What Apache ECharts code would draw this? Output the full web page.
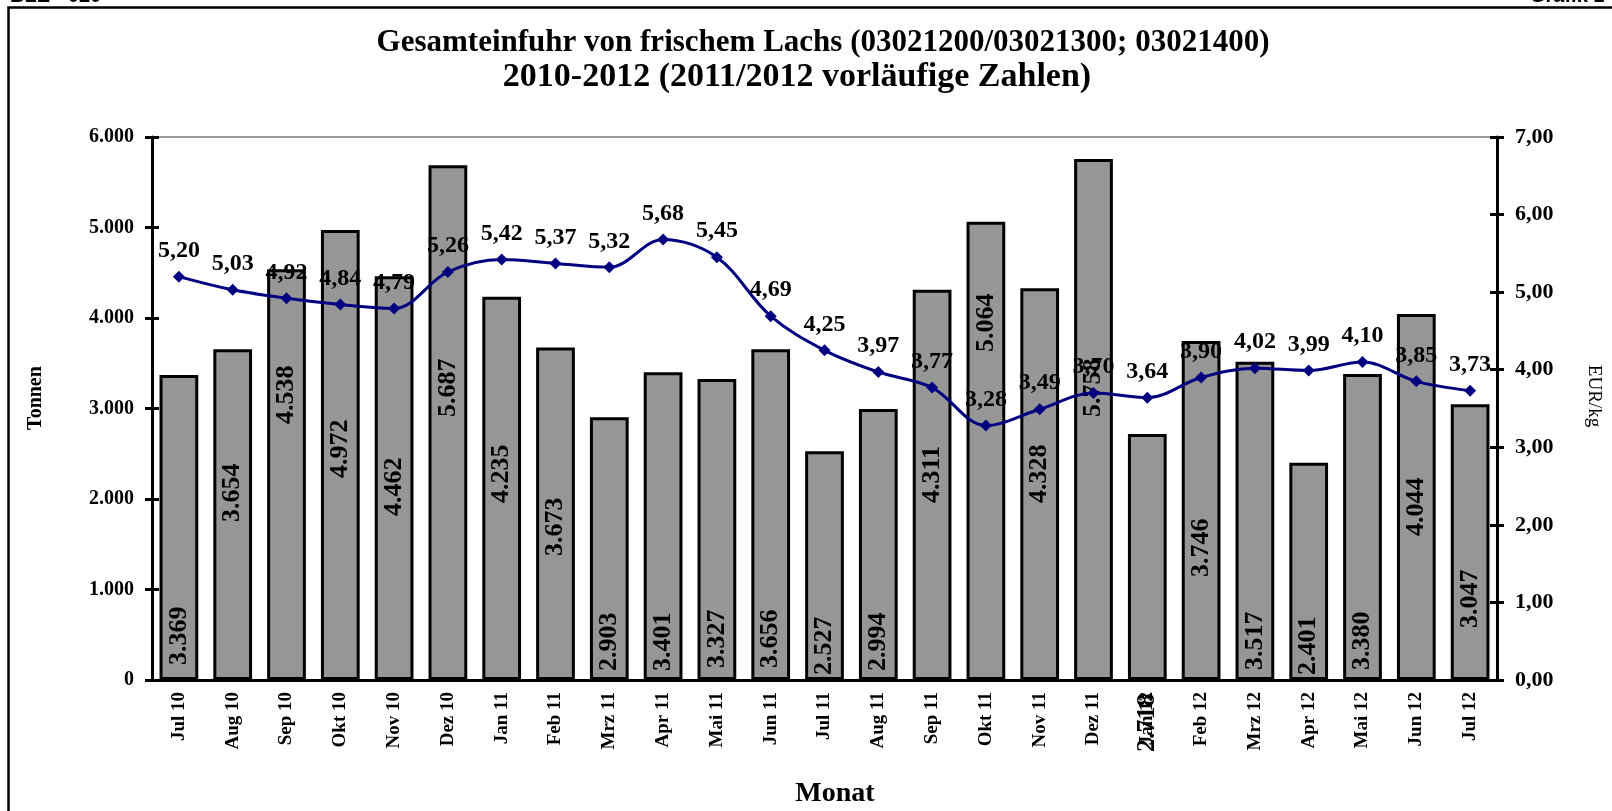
<!DOCTYPE html>
<html><head><meta charset="utf-8">
<script src="https://cdn.jsdelivr.net/npm/echarts@6/dist/echarts.min.js"></script>
<style>html,body{margin:0;padding:0;background:#fff;overflow:hidden}#c{width:1612px;height:811px}</style>
</head><body><div id="c"></div>
<script>
// ---- data ----
const months = ['Jul 10','Aug 10','Sep 10','Okt 10','Nov 10','Dez 10','Jan 11','Feb 11','Mrz 11','Apr 11','Mai 11','Jun 11','Jul 11','Aug 11','Sep 11','Okt 11','Nov 11','Dez 11','Jan 12','Feb 12','Mrz 12','Apr 12','Mai 12','Jun 12','Jul 12'];
const tonnen = [3369,3654,4538,4972,4462,5687,4235,3673,2903,3401,3327,3656,2527,2994,4311,5064,4328,5758,2718,3746,3517,2401,3380,4044,3047];
const eurProKg = [5.20,5.03,4.92,4.84,4.79,5.26,5.42,5.37,5.32,5.68,5.45,4.69,4.25,3.97,3.77,3.28,3.49,3.70,3.64,3.90,4.02,3.99,4.10,3.85,3.73];
const leftAxis = {min:0, max:6000, interval:1000};
const rightAxis = {min:0, max:7, interval:1};

// ---- layout (label placement in pixels above the base line, as in the original) ----
const barLabelLift = [15,158,256,202,164,263,177,124,9,9,12,12,5,9,177,328,177,263,-72,103,10,5,10,144,52];

const SERIF = '"Liberation Serif","Times New Roman",serif';
const fmtT = v => String(Math.round(v)).replace(/\B(?=(\d{3})+(?!\d))/g,'.');
const fmtE = v => v.toFixed(2).replace('.',',');

const chart = echarts.init(document.getElementById('c'), null, {renderer:'canvas'});
const barData = tonnen.map((v,i)=>({value:v,label:{distance:barLabelLift[i]}}));

const tickAxis = (pos, r) => ({type:'value', position:pos, min:r.min, max:r.max, interval:r.interval,
  axisLine:{show:false}, axisLabel:{show:false}, splitLine:{show:false},
  axisTick:{show:true, inside:true, length:7, lineStyle:{color:'#000',width:3}}});

chart.setOption({
  animation:false,
  backgroundColor:'#fff',
  grid:{left:152, right:115, top:137, bottom:131, show:true, borderColor:'#999', borderWidth:2, backgroundColor:'transparent'},
  xAxis:{type:'category', data:months,
    axisLine:{lineStyle:{color:'#000',width:3}}, axisTick:{show:false},
    axisLabel:{rotate:90, margin:12, color:'#000', fontFamily:SERIF, fontWeight:'bold', fontSize:19, interval:0}},
  yAxis:[
    {type:'value', position:'left', min:leftAxis.min, max:leftAxis.max, interval:leftAxis.interval,
     axisLine:{show:true,lineStyle:{color:'#000',width:3}}, splitLine:{show:false},
     axisTick:{show:true,length:7,lineStyle:{color:'#000',width:3}},
     axisLabel:{margin:18,color:'#000',fontFamily:SERIF,fontWeight:'bold',fontSize:20,formatter:fmtT}},
    {type:'value', position:'right', min:rightAxis.min, max:rightAxis.max, interval:rightAxis.interval,
     axisLine:{show:true,lineStyle:{color:'#000',width:3}}, splitLine:{show:false},
     axisTick:{show:true,length:7,lineStyle:{color:'#000',width:3}},
     axisLabel:{margin:18,color:'#000',fontFamily:SERIF,fontWeight:'bold',fontSize:22,formatter:fmtE}},
    tickAxis('left', leftAxis),
    tickAxis('right', rightAxis)
  ],
  series:[
    {type:'bar', yAxisIndex:0, data:barData, barWidth:'72%',
     itemStyle:{color:'#969696', borderColor:'#000', borderWidth:3},
     label:{show:true, position:'insideBottom', rotate:90, align:'left', verticalAlign:'middle',
       color:'#000', fontFamily:SERIF, fontWeight:'bold', fontSize:26, formatter:p=>fmtT(p.value)}},
    {type:'line', yAxisIndex:1, data:eurProKg, smooth:0.35, z:5,
     lineStyle:{color:'#000080', width:3}, itemStyle:{color:'#000080'},
     symbol:'diamond', symbolSize:12, showAllSymbol:true,
     label:{show:true, position:'top', distance:8, color:'#000', fontFamily:SERIF, fontWeight:'bold', fontSize:24, formatter:p=>fmtE(p.value)}}
  ],
  graphic:[
    {type:'rect', shape:{x:8.5,y:7.5,width:1700,height:900}, style:{fill:'none',stroke:'#000',lineWidth:2.5}, silent:true},
    {type:'text', left:10, top:-14, style:{text:'BLE - 020', font:'bold 20px "Liberation Sans",Arial,sans-serif', fill:'#000'}},
    {type:'text', left:1530, top:-14, style:{text:'Grafik 1', font:'bold 20px "Liberation Sans",Arial,sans-serif', fill:'#000'}},
    {type:'text', x:823, y:43, style:{text:'Gesamteinfuhr von frischem Lachs (03021200/03021300; 03021400)', font:'bold 31px '+SERIF, fill:'#000', textAlign:'center', textVerticalAlign:'middle'}},
    {type:'text', x:797, y:77, style:{text:'2010-2012 (2011/2012 vorläufige Zahlen)', font:'bold 34px '+SERIF, fill:'#000', textAlign:'center', textVerticalAlign:'middle'}},
    {type:'text', x:835, y:794, style:{text:'Monat', font:'bold 28px '+SERIF, fill:'#000', textAlign:'center', textVerticalAlign:'middle'}},
    {type:'text', x:36, y:398, rotation:Math.PI/2, style:{text:'Tonnen', font:'bold 20px '+SERIF, fill:'#000', textAlign:'center', textVerticalAlign:'middle'}},
    {type:'text', x:1594, y:396, rotation:-Math.PI/2, style:{text:'EUR/kg', font:'19px '+SERIF, fill:'#000', textAlign:'center', textVerticalAlign:'middle'}}
  ]
});
</script></body></html>
